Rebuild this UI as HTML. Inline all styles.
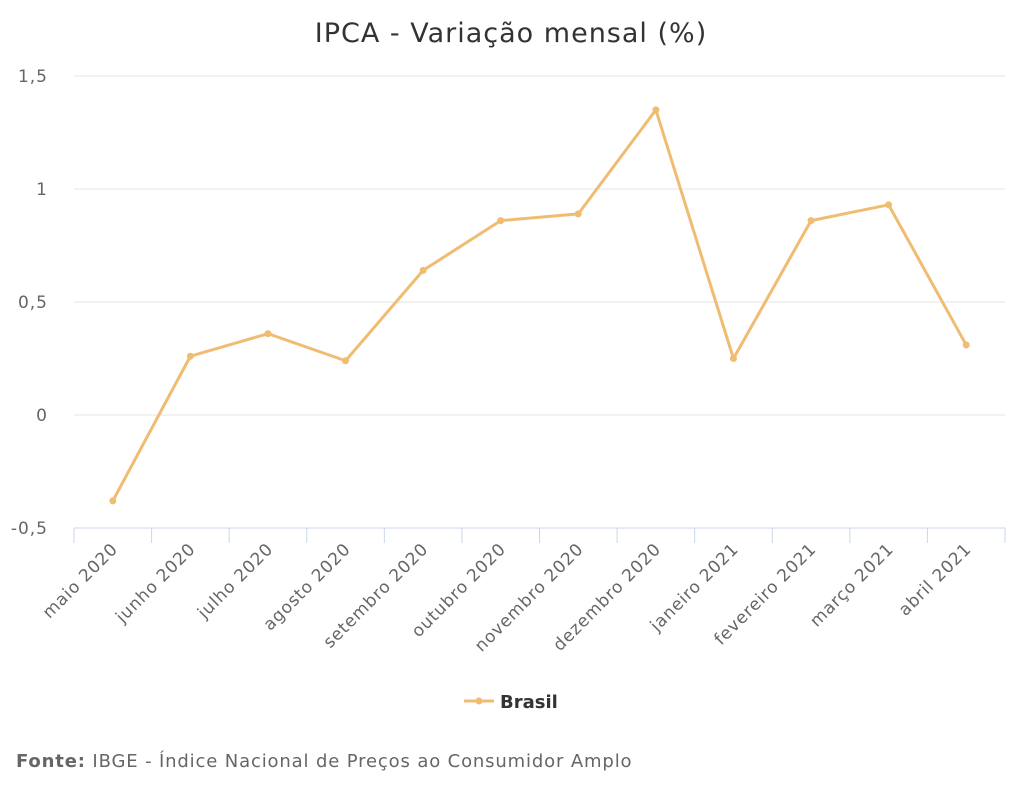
<!DOCTYPE html>
<html><head><meta charset="utf-8"><style>
body{margin:0;background:#fff;}
svg text{font-family:"DejaVu Sans","Liberation Sans",sans-serif;}
</style></head><body>
<svg id="chart" width="1024" height="798">
<text x="511" y="42" text-anchor="middle" font-size="27" letter-spacing="1" fill="#333">IPCA - Variação mensal (%)</text>
<g id="grid"></g><g id="xaxis"></g><g id="series"></g>
<g>
<line x1="464" y1="701" x2="494" y2="701" stroke="#f0bc72" stroke-width="3"/>
<circle cx="479" cy="701" r="3.5" fill="#f0bc72"/>
<text x="500" y="708" font-size="18" font-weight="bold" fill="#333">Brasil</text>
</g>
<text x="16" y="767" font-size="18" letter-spacing="0.85" fill="#666"><tspan font-weight="bold">Fonte:</tspan> IBGE - Índice Nacional de Preços ao Consumidor Amplo</text>
</svg>
<script>
const categories=["maio 2020","junho 2020","julho 2020","agosto 2020","setembro 2020","outubro 2020","novembro 2020","dezembro 2020","janeiro 2021","fevereiro 2021","março 2021","abril 2021"];
const values=[-0.38,0.26,0.36,0.24,0.64,0.86,0.89,1.35,0.25,0.86,0.93,0.31];
const yTicks=[-0.5,0,0.5,1,1.5];
const yTickLabels=["-0,5","0","0,5","1","1,5"];
const NS="http://www.w3.org/2000/svg";
const X0=74,X1=1005,Y0=528,Y1=76,ymin=-0.5,ymax=1.5;
const bw=(X1-X0)/categories.length;
const xs=i=>X0+bw*(i+0.5);
const ys=v=>Y0-(v-ymin)/(ymax-ymin)*(Y0-Y1);
function mk(t,a,p){const e=document.createElementNS(NS,t);for(const k in a)e.setAttribute(k,a[k]);p.appendChild(e);return e;}
const grid=document.getElementById('grid'),xa=document.getElementById('xaxis'),ser=document.getElementById('series');
yTicks.forEach((v,i)=>{
 if(i>0){const l=mk('line',{x1:X0,x2:X1,y1:ys(v),y2:ys(v),stroke:'#e6e6e6'},grid);
 
 }
 const t=mk('text',{x:48,y:ys(v)+6,'text-anchor':'end','font-size':17,'letter-spacing':1,fill:'#666'},grid);t.textContent=yTickLabels[i];
 
 
});
const ax=mk('line',{x1:X0,x2:X1,y1:Y0,y2:Y0,stroke:'#ccd6eb'},xa);


for(let i=0;i<=categories.length;i++){const x=X0+bw*i;const tk=mk('line',{x1:x,x2:x,y1:Y0,y2:Y0+15,stroke:'#ccd6eb'},xa);
 
 }
categories.forEach((c,i)=>{const x=xs(i)+6,y=Y0+22;
 const t=mk('text',{x:x,y:y,'text-anchor':'end','font-size':17,'letter-spacing':0.8,fill:'#666',transform:`rotate(-45 ${x} ${y})`},xa);t.textContent=c;
 
 });
const pl=mk('polyline',{points:values.map((v,i)=>xs(i)+','+ys(v)).join(' '),fill:'none',stroke:'#f0bc72','stroke-width':3,'stroke-linejoin':'round'},ser);


values.forEach((v,i)=>{const p=mk('circle',{cx:xs(i),cy:ys(v),r:3.5,fill:'#f0bc72'},ser);
 
 });
</script>
</body></html>
